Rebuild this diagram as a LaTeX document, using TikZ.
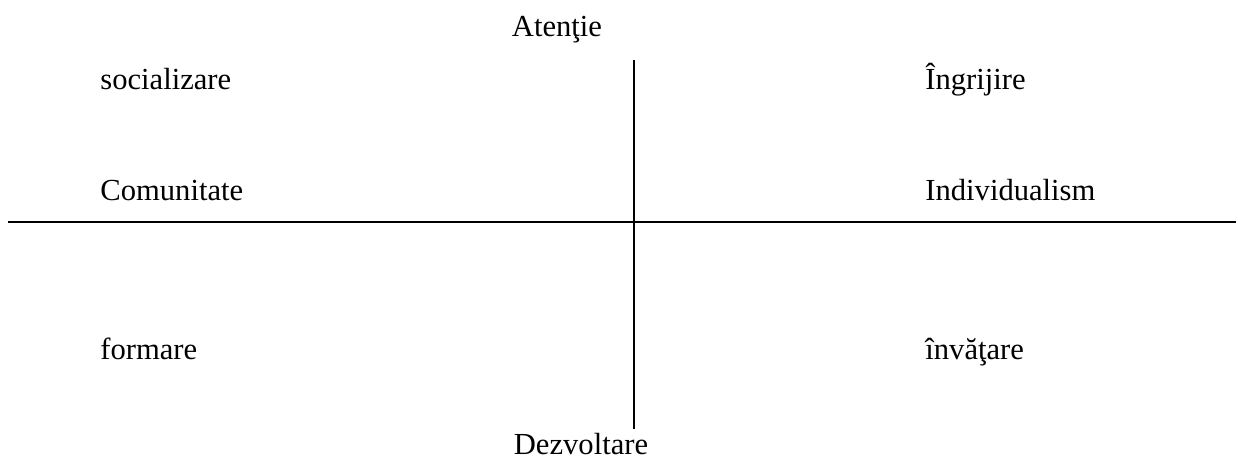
\documentclass[tikz,border=0pt]{standalone}
\usepackage{fontspec}
\setmainfont{Liberation Serif}
\usepackage{tikz}
\usetikzlibrary{positioning}

\begin{document}
\begin{tikzpicture}[
  x=0.5pt,y=-0.5pt,
  lbl/.style={inner sep=0pt,anchor=base west,font=\fontsize{15.3}{18}\selectfont},
  ax/.style={line width=1.25pt,color=black}
]
  \useasboundingbox (0,0) rectangle (1236,459);
  % axes
  \coordinate (top) at (634,60);
  \coordinate (bot) at (634,429);
  \coordinate (lft) at (8,222);
  \coordinate (rgt) at (1236,222);
  \draw[ax] (top) -- (bot);
  \draw[ax] (lft) -- (rgt);
  % poles
  \node[lbl,anchor=base] (aten) at (557,37) {Atenţie};
  \node[lbl,anchor=base] (dezv) at (581,454) {Dezvoltare};
  % left side
  \node[lbl] (soc) at (100,90) {socializare};
  \node[lbl] (com) at (100,201) {Comunitate};
  \node[lbl] (form) at (100,360) {formare};
  % right side
  \node[lbl] (ingr) at (925,90) {Îngrijire};
  \node[lbl] (indiv) at (925,201) {Individualism};
  \node[lbl] (inv) at (925,360) {învăţare};
\end{tikzpicture}
\end{document}
